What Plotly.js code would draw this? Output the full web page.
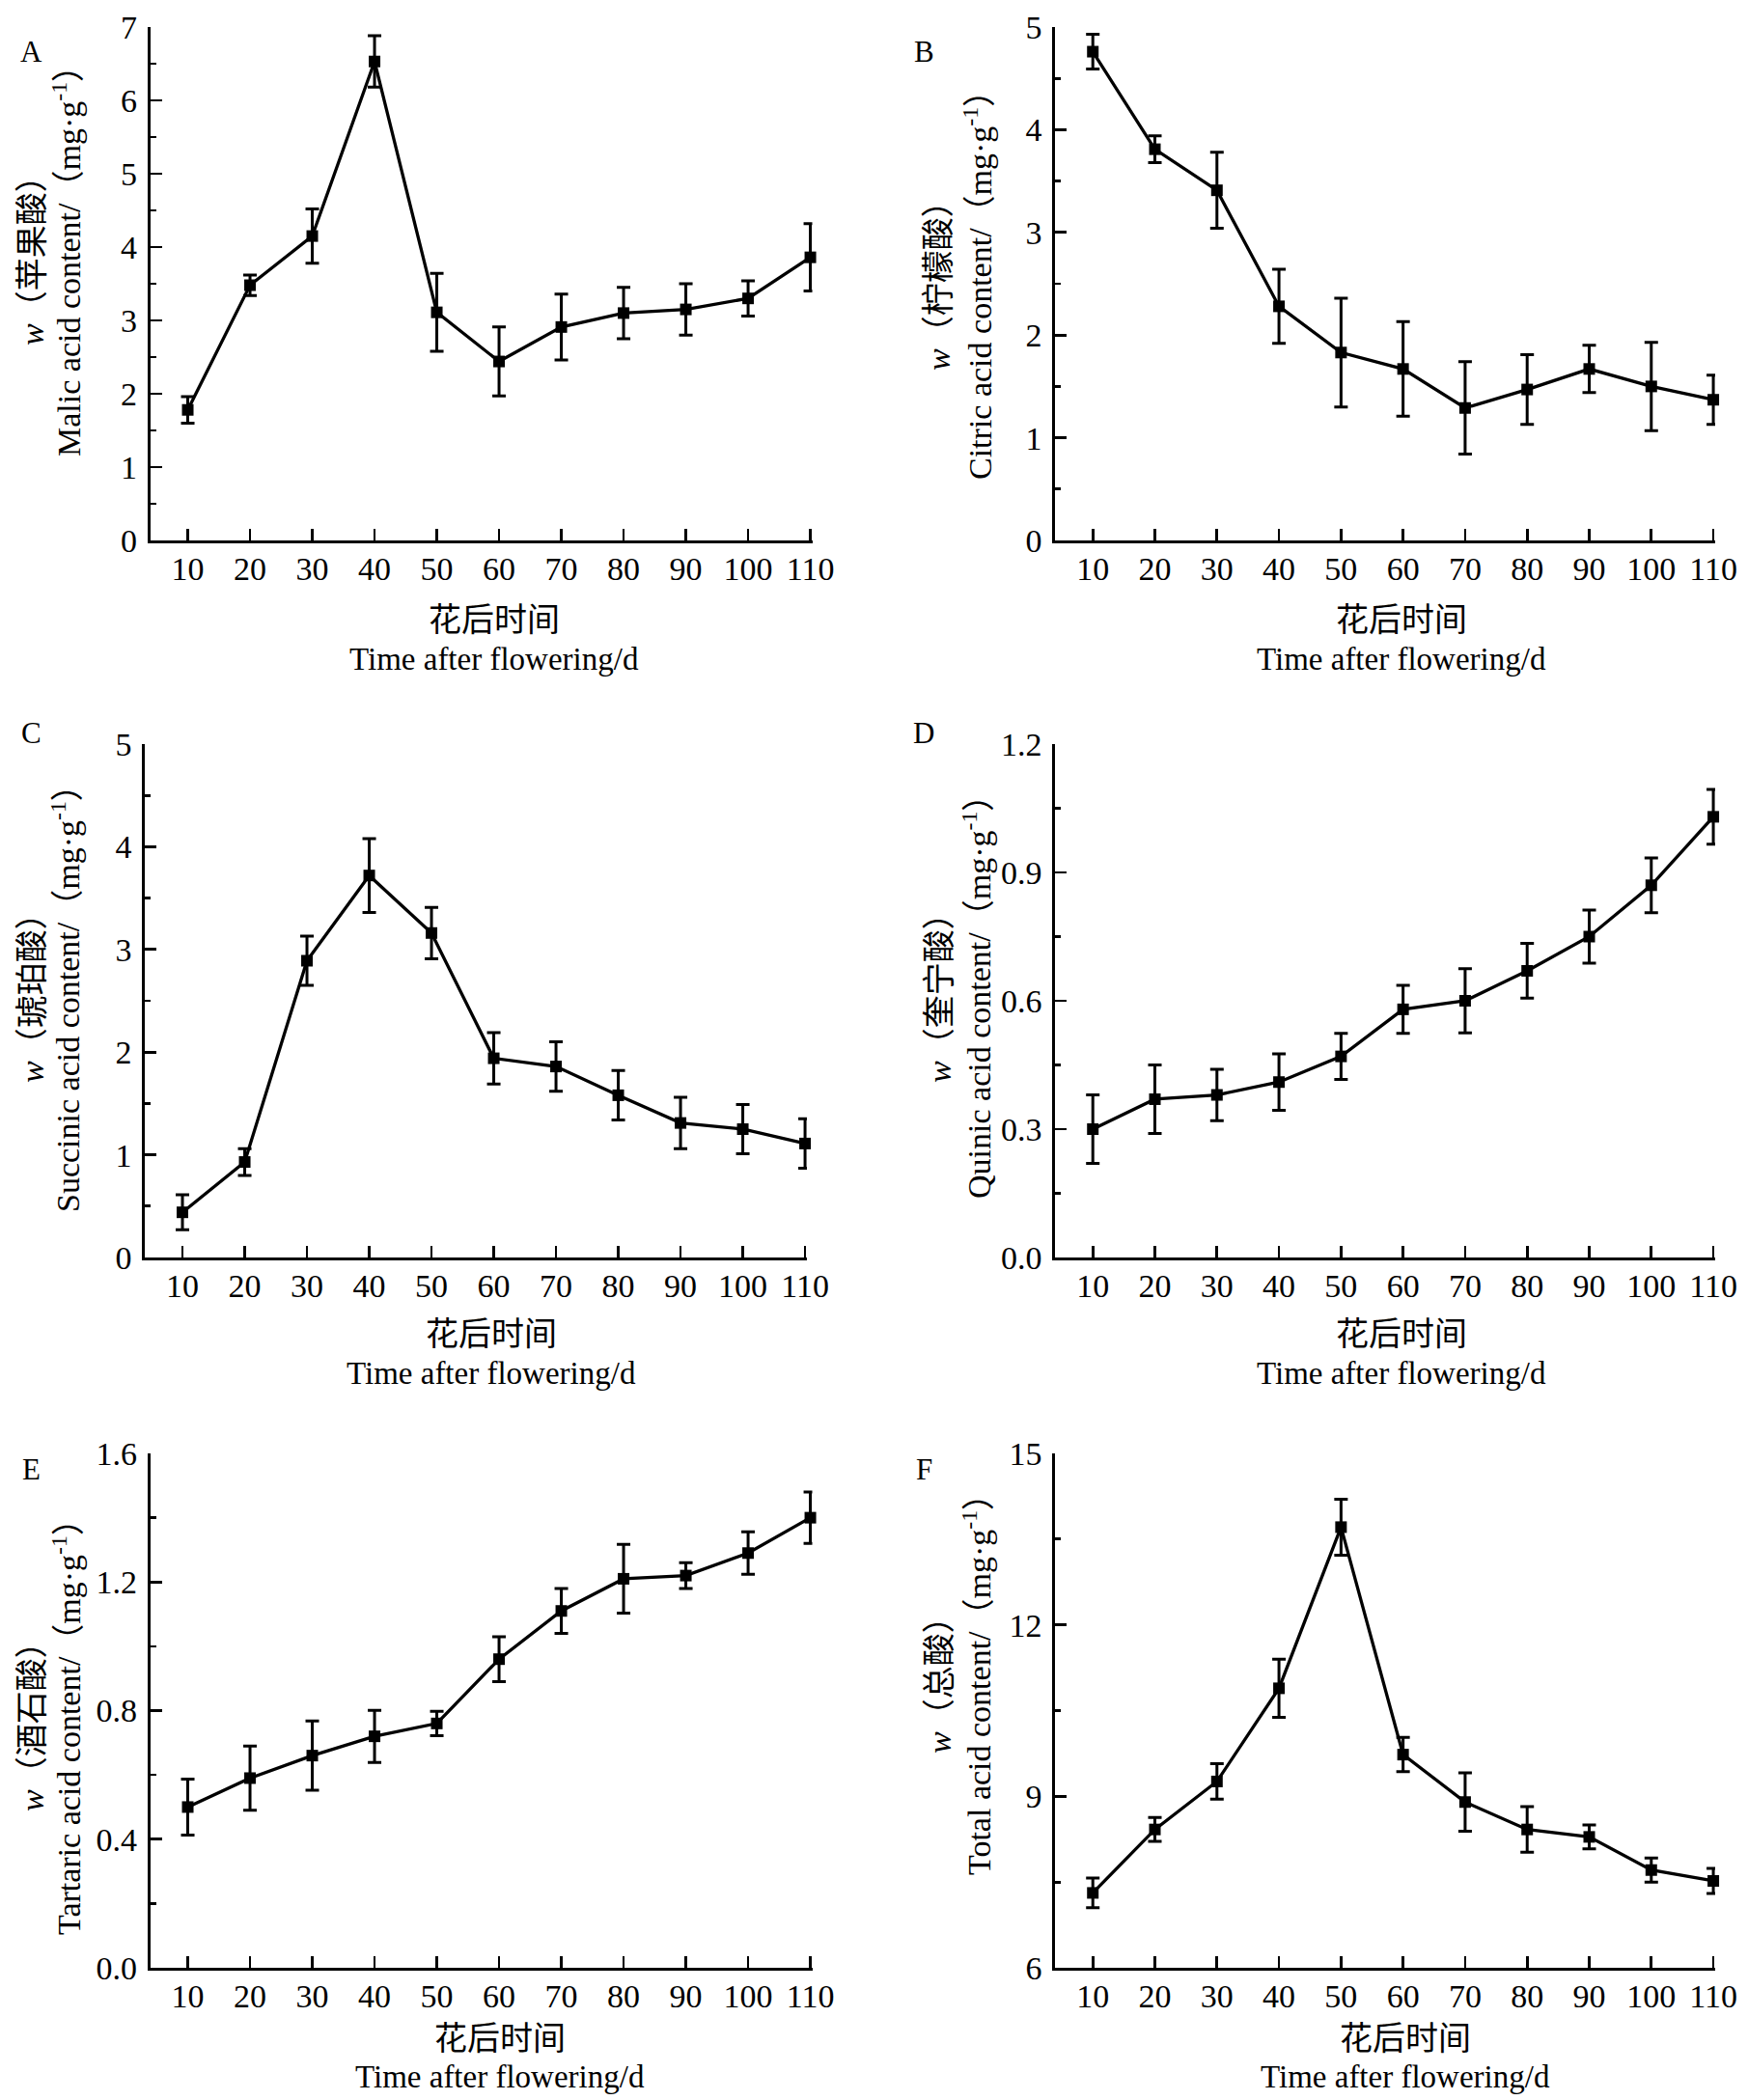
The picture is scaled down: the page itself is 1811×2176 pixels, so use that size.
<!DOCTYPE html>
<html>
<head>
<meta charset="utf-8">
<script src="https://cdn.plot.ly/plotly-3.0.1.min.js"></script>
<style>html,body{margin:0;padding:0;background:#fff;}#chart{width:1811px;height:2176px;}</style>
</head>
<body>
<div id="chart"></div>
<script>
// ---------------- DATA ----------------
const days = [10, 20, 30, 40, 50, 60, 70, 80, 90, 100, 110];
const xTickLabels = ["10", "20", "30", "40", "50", "60", "70", "80", "90", "100", "110"];

const malic      = [1.78, 3.48, 4.15, 6.53, 3.11, 2.44, 2.91, 3.10, 3.15, 3.30, 3.86];
const malicErr   = [0.18, 0.14, 0.37, 0.35, 0.53, 0.47, 0.45, 0.35, 0.35, 0.24, 0.46];

const citric     = [4.76, 3.81, 3.41, 2.28, 1.83, 1.67, 1.29, 1.47, 1.67, 1.50, 1.37];
const citricErr  = [0.17, 0.13, 0.37, 0.36, 0.53, 0.46, 0.45, 0.34, 0.23, 0.43, 0.24];

const succinic    = [0.44, 0.93, 2.89, 3.72, 3.16, 1.94, 1.86, 1.58, 1.31, 1.25, 1.11];
const succinicErr = [0.17, 0.13, 0.24, 0.36, 0.25, 0.25, 0.24, 0.24, 0.25, 0.24, 0.24];

const quinic     = [0.30, 0.37, 0.38, 0.41, 0.47, 0.58, 0.60, 0.67, 0.75, 0.87, 1.03];
const quinicErr  = [0.08, 0.08, 0.06, 0.066, 0.054, 0.056, 0.075, 0.064, 0.062, 0.064, 0.064];

const tartaric    = [0.50, 0.59, 0.66, 0.72, 0.76, 0.96, 1.11, 1.21, 1.22, 1.29, 1.40];
const tartaricErr = [0.087, 0.10, 0.108, 0.081, 0.038, 0.07, 0.07, 0.107, 0.04, 0.066, 0.08];

const total      = [7.31, 8.42, 9.26, 10.89, 13.71, 9.73, 8.90, 8.42, 8.29, 7.71, 7.52];
const totalErr   = [0.26, 0.21, 0.31, 0.51, 0.49, 0.30, 0.51, 0.40, 0.21, 0.21, 0.22];

const panelLetters = ["A", "B", "C", "D", "E", "F"];
const cnNames = ["苹果酸", "柠檬酸", "琥珀酸", "奎宁酸", "酒石酸", "总酸"];
const enNames = ["Malic acid content", "Citric acid content", "Succinic acid content",
                 "Quinic acid content", "Tartaric acid content", "Total acid content"];
const xTitleCn = "花后时间";
const xTitleEn = "Time after flowering/d";

const seriesVals = [malic, citric, succinic, quinic, tartaric, total];
const seriesErrs = [malicErr, citricErr, succinicErr, quinicErr, tartaricErr, totalErr];

// y axis scales
const yRanges = [[0, 7], [0, 5], [0, 5], [0, 1.2], [0, 1.6], [6, 15]];
const yDticks = [1, 1, 1, 0.3, 0.4, 3];
const yFormats = ["d", "d", "d", ".1f", ".1f", "d"];

// ---------------- LAYOUT (pixel geometry) ----------------
const W = 1811, H = 2176;
const PX = x => x / W;
const PY = y => 1 - y / H;

// [left, right, top, bottom] in px
const boxes = [
  [155.5, 841.5, 28, 560],
  [1093, 1777, 28, 560],
  [150, 836, 771, 1303],
  [1093, 1777, 771, 1303],
  [155.5, 841.5, 1506, 2039],
  [1093, 1777, 1506, 2039]
];
const xRanges = [[3.95, 110.3], [3.9, 110.3], [3.95, 110.3], [3.9, 110.3], [3.95, 110.3], [3.9, 110.3]];
const letterPos = [[32, 53], [957, 53], [32, 759], [957, 759], [32, 1522], [957, 1522]];
const yTitleCol = [[34, 69], [973, 1013], [34, 68], [973, 1012], [33, 69], [973, 1012]];
const yTitleCY = [262, 287, 1026, 1025, 1781, 1737];
const xTitleY = [[639, 683], [639, 683], [1379, 1423], [1379, 1423], [2109, 2152], [2109, 2152]];
const xTitleX = [512, 1452, 509, 1452, 518, 1456];

const SERIF = "'Liberation Serif', 'Times New Roman', 'Noto Sans CJK SC', serif";
const CJK = "'Noto Sans CJK SC', 'Liberation Serif', sans-serif";
const INK = "#000";

const traces = [];
const layout = {
  width: W, height: H,
  margin: {l: 0, r: 0, t: 0, b: 0},
  paper_bgcolor: "#fff", plot_bgcolor: "rgba(0,0,0,0)",
  showlegend: false,
  font: {family: SERIF, color: INK, size: 34},
  annotations: []
};

for (let i = 0; i < 6; i++) {
  const n = i + 1;
  const xa = n === 1 ? "x" : "x" + n;
  const ya = n === 1 ? "y" : "y" + n;
  const xk = n === 1 ? "xaxis" : "xaxis" + n;
  const yk = n === 1 ? "yaxis" : "yaxis" + n;
  const b = boxes[i];

  traces.push({
    type: "scatter", mode: "lines+markers",
    x: days, y: seriesVals[i],
    xaxis: xa, yaxis: ya,
    line: {color: "#000", width: 3.3},
    marker: {symbol: "square", size: 12, color: "#000"},
    error_y: {type: "data", array: seriesErrs[i], visible: true, color: "#000", thickness: 3, width: 7},
    cliponaxis: false,
    hoverinfo: "skip"
  });

  layout[xk] = {
    domain: [PX(b[0]), PX(b[1])],
    anchor: ya,
    range: xRanges[i],
    tickmode: "array", tickvals: days, ticktext: xTickLabels,
    ticks: "inside", ticklen: 12, tickwidth: 2.7, tickcolor: "#000",
    showline: true, linecolor: "#000", linewidth: 2.7,
    showgrid: false, zeroline: false,
    tickfont: {family: SERIF, size: 34, color: INK},
    ticklabelstandoff: -3,
    fixedrange: true
  };
  layout[yk] = {
    domain: [PY(b[3]), PY(b[2])],
    anchor: xa,
    range: yRanges[i],
    dtick: yDticks[i], tick0: yRanges[i][0],
    tickformat: yFormats[i],
    ticks: "inside", ticklen: 12, tickwidth: 2.7, tickcolor: "#000",
    minor: {dtick: yDticks[i] / 2, ticks: "inside", ticklen: 6, tickwidth: 2.7, tickcolor: "#000", showgrid: false},
    showline: true, linecolor: "#000", linewidth: 2.7,
    showgrid: false, zeroline: false,
    tickfont: {family: SERIF, size: 34, color: INK},
    ticklabelstandoff: 4,
    fixedrange: true
  };

  // panel letter
  layout.annotations.push({
    xref: "paper", yref: "paper", x: PX(letterPos[i][0]), y: PY(letterPos[i][1]),
    xanchor: "center", yanchor: "middle", showarrow: false,
    text: panelLetters[i], font: {family: SERIF, size: 31, color: INK}
  });
  // y titles (two rotated lines)
  layout.annotations.push({
    xref: "paper", yref: "paper", x: PX(yTitleCol[i][0]), y: PY(yTitleCY[i]),
    xanchor: "center", yanchor: "middle", showarrow: false, textangle: -90,
    text: "<i>w</i>（" + cnNames[i] + "）",
    font: {family: SERIF, size: 34, color: INK}
  });
  layout.annotations.push({
    xref: "paper", yref: "paper", x: PX(yTitleCol[i][1]), y: PY(yTitleCY[i]),
    xanchor: "center", yanchor: "middle", showarrow: false, textangle: -90,
    text: enNames[i] + "/（mg·g<sup>-1</sup>）",
    font: {family: SERIF, size: 34, color: INK}
  });
  // x titles
  layout.annotations.push({
    xref: "paper", yref: "paper", x: PX(xTitleX[i]), y: PY(xTitleY[i][0]),
    xanchor: "center", yanchor: "middle", showarrow: false,
    text: xTitleCn, font: {family: CJK, size: 34, color: INK}
  });
  layout.annotations.push({
    xref: "paper", yref: "paper", x: PX(xTitleX[i]), y: PY(xTitleY[i][1]),
    xanchor: "center", yanchor: "middle", showarrow: false,
    text: xTitleEn, font: {family: SERIF, size: 33, color: INK}
  });
}

Plotly.newPlot("chart", traces, layout, {staticPlot: true, displayModeBar: false});
</script>
</body>
</html>
